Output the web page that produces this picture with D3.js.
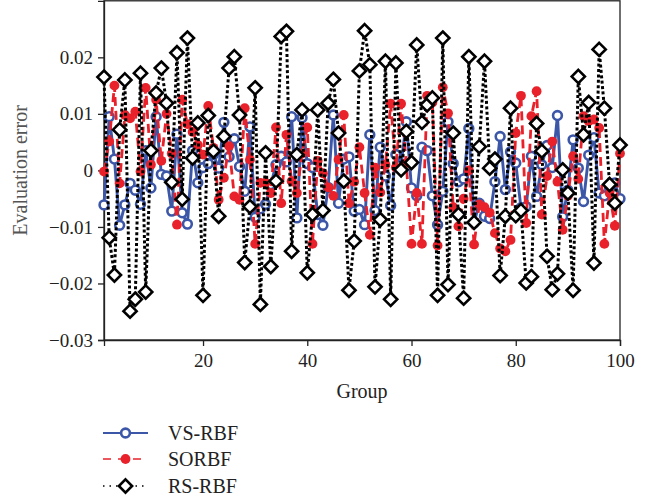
<!DOCTYPE html>
<html>
<head>
<meta charset="utf-8">
<script src="https://cdn.jsdelivr.net/npm/d3@7"></script>
<style>
  body { margin: 0; background: #fff; }
  svg { display: block; }
  text { font-family: "Liberation Serif", "DejaVu Serif", serif; }
</style>
</head>
<body>
<svg id="chart" width="650" height="498"></svg>
<script>
// ---- data ----
const groups = d3.range(1, 101);
const yTicks = [-0.03, -0.02, -0.01, 0, 0.01, 0.02];
const xTicks = [20, 40, 60, 80, 100];
const seriesNames = ["VS-RBF", "SORBF", "RS-RBF"];

const vsRBF = [
 -0.0061, 0.0095, 0.0020,-0.0097,-0.0061,-0.0023,-0.0035,-0.0060, 0.0035,-0.0031,
  0.0095,-0.0007,-0.0010,-0.0072, 0.0064,-0.0075,-0.0095, 0.0035,-0.0022, 0.0005,
  0.0012, 0.0028, 0.0004, 0.0085, 0.0024, 0.0056, 0.0007,-0.0037, 0.0077,-0.0083,
 -0.0068,-0.0060,-0.0025, 0.0010, 0.0025, 0.0015, 0.0095,-0.0084, 0.0093, 0.0012,
  0.0005,-0.0078,-0.0097,-0.0030, 0.0098,-0.0058, 0.0020, 0.0024,-0.0072,-0.0069,
 -0.0096, 0.0063,-0.0071, 0.0041,-0.0010,-0.0062, 0.0028, 0.0010, 0.0086,-0.0031,
 -0.0045, 0.0041, 0.0035,-0.0045,-0.0096,-0.0037, 0.0086, 0.0012,-0.0020,-0.0015,
  0.0074,-0.0093,-0.0058,-0.0081,-0.0085,-0.0020, 0.0060,-0.0034, 0.0033, 0.0013,
 -0.0066,-0.0064, 0.0025,-0.0046, 0.0010, 0.0044, 0.0005, 0.0097,-0.0082,-0.0035,
  0.0054, 0.0004,-0.0055, 0.0027, 0.0058,-0.0040,-0.0045,-0.0031,-0.0022,-0.0050
];
const soRBF = [
 -0.0002, 0.0051, 0.0150,-0.0023, 0.0098, 0.0092, 0.0104,-0.0002, 0.0146, 0.0010,
  0.0125, 0.0017, 0.0100, 0.0030,-0.0096, 0.0125, 0.0082, 0.0068, 0.0045, 0.0028,
  0.0114, 0.0040,-0.0052,-0.0013, 0.0043,-0.0046,-0.0052, 0.0110, 0.0019,-0.0130,
 -0.0022,-0.0022,-0.0040, 0.0076,-0.0058, 0.0063,-0.0019,-0.0040, 0.0030, 0.0076,
 -0.0130, 0.0017,-0.0005,-0.0030,-0.0045, 0.0019, 0.0098,-0.0058,-0.0020, 0.0041,
 -0.0040,-0.0114, 0.0005,-0.0039, 0.0010, 0.0118, 0.0005, 0.0118, 0.0013,-0.0130,
 -0.0040,-0.0130, 0.0132, 0.0120,-0.0133, 0.0147, 0.0101,-0.0065,-0.0099,-0.0050,
  0.0000,-0.0131,-0.0060,-0.0065,-0.0075,-0.0111,-0.0138,-0.0143,-0.0123, 0.0066,
  0.0132,-0.0093, 0.0096, 0.0140,-0.0078,-0.0010, 0.0051,-0.0020,-0.0105,-0.0045,
  0.0025,-0.0015, 0.0096, 0.0087, 0.0090, 0.0075,-0.0130,-0.0040,-0.0098, 0.0030
];
const rsRBF = [
  0.0165,-0.0119,-0.0185, 0.0072, 0.0160,-0.0249,-0.0228, 0.0172,-0.0215, 0.0035,
  0.0137, 0.0181, 0.0119,-0.0021, 0.0208,-0.0051, 0.0234, 0.0022, 0.0084,-0.0221,
  0.0097, 0.0034,-0.0081, 0.0060, 0.0181, 0.0201, 0.0098,-0.0163,-0.0064, 0.0146,
 -0.0237, 0.0031,-0.0170,-0.0019, 0.0237, 0.0246,-0.0143, 0.0028, 0.0107,-0.0181,
 -0.0078, 0.0107,-0.0071, 0.0119, 0.0161, 0.0066,-0.0019,-0.0212,-0.0125, 0.0176,
  0.0247, 0.0187,-0.0206,-0.0087, 0.0193,-0.0228, 0.0190, 0.0001, 0.0069, 0.0014,
  0.0222, 0.0085, 0.0116, 0.0128,-0.0221, 0.0234,-0.0202, 0.0066,-0.0078,-0.0226,
  0.0201,-0.0092, 0.0042, 0.0193, 0.0004, 0.0020,-0.0186,-0.0081, 0.0110,-0.0080,
 -0.0071,-0.0199,-0.0188, 0.0083, 0.0034,-0.0152,-0.0211,-0.0183, 0.0001,-0.0040,
 -0.0212, 0.0166, 0.0063, 0.0120,-0.0164, 0.0214, 0.0110,-0.0025,-0.0058, 0.0045
];

// ---- layout ----
const svg = d3.select("#chart");
const x = d3.scaleLinear().domain([1, 100]).range([104, 620]);
const y = d3.scaleLinear().domain([-0.03, 0.03]).range([340, 0.8]);
const axisColor = "#222";
const fmt = v => v === 0 ? "0" : d3.format(".2f")(v).replace("-", "\u2212");

// frame
svg.append("rect")
  .attr("x", x(1)).attr("y", y(0.03))
  .attr("width", x(100) - x(1)).attr("height", y(-0.03) - y(0.03))
  .attr("fill", "none").attr("stroke", axisColor).attr("stroke-width", 1.3);

// axes
const yAxis = d3.axisLeft(y).tickValues(yTicks).tickFormat(fmt).tickSize(6).tickPadding(5);
const gy = svg.append("g").attr("transform", `translate(${x(1)},0)`).call(yAxis);
const xAxis = d3.axisBottom(x).tickValues(xTicks).tickSize(6).tickPadding(8);
const gx = svg.append("g").attr("transform", `translate(0,${y(-0.03)})`).call(xAxis);
[gy, gx].forEach(g => {
  g.select(".domain").attr("stroke", axisColor).attr("stroke-width", 1.3);
  g.selectAll(".tick line").attr("stroke", axisColor).attr("stroke-width", 1.3);
  g.selectAll(".tick text").attr("fill", "#222").style("font-size", "19px")
    .style("font-family", '"Liberation Serif", serif');
});

svg.append("text").attr("x", (x(1) + x(100)) / 2).attr("y", 398)
  .attr("text-anchor", "middle").attr("fill", "#222").style("font-size", "20px").text("Group");
svg.append("text").attr("transform", `translate(27,${(y(0.03) + y(-0.03)) / 2}) rotate(-90)`)
  .attr("text-anchor", "middle").attr("fill", "#555").style("font-size", "20px").text("Evaluation error");

// ---- series ----
const blue = "#3d57a8", red = "#e8212a", black = "#000";
const line = d3.line().x((d, i) => x(groups[i])).y(d => y(d));
const plot = svg.append("g");

const diamond = s => `M0,${-s}L${s},0L0,${s}L${-s},0Z`;

// VS-RBF
plot.append("path").datum(vsRBF).attr("d", line).attr("fill", "none")
  .attr("stroke", blue).attr("stroke-width", 2.9);
plot.append("g").selectAll("circle").data(vsRBF).join("circle")
  .attr("cx", (d, i) => x(groups[i])).attr("cy", d => y(d)).attr("r", 4.4)
  .attr("fill", "#fff").attr("stroke", blue).attr("stroke-width", 2.6);

// SORBF
plot.append("path").datum(soRBF).attr("d", line).attr("fill", "none")
  .attr("stroke", red).attr("stroke-width", 2.8).attr("stroke-dasharray", "9,5");
plot.append("g").selectAll("circle").data(soRBF).join("circle")
  .attr("cx", (d, i) => x(groups[i])).attr("cy", d => y(d)).attr("r", 4.9)
  .attr("fill", red);

// RS-RBF
plot.append("path").datum(rsRBF).attr("d", line).attr("fill", "none")
  .attr("stroke", black).attr("stroke-width", 3).attr("stroke-dasharray", "3,2.4");
plot.append("g").selectAll("path").data(rsRBF).join("path")
  .attr("transform", (d, i) => `translate(${x(groups[i])},${y(d)})`)
  .attr("d", diamond(6.6)).attr("fill", "#fff").attr("stroke", black).attr("stroke-width", 2.6);

// ---- legend ----
const legend = svg.append("g");
const legY = [433, 459, 486];
const lx0 = 103, lx1 = 148, lxm = 125.5;
// VS-RBF
legend.append("line").attr("x1", lx0).attr("x2", lx1).attr("y1", legY[0]).attr("y2", legY[0])
  .attr("stroke", blue).attr("stroke-width", 2.2);
legend.append("circle").attr("cx", lxm).attr("cy", legY[0]).attr("r", 4.4)
  .attr("fill", "#fff").attr("stroke", blue).attr("stroke-width", 2.6);
// SORBF
legend.append("line").attr("x1", lx0).attr("x2", lx1).attr("y1", legY[1]).attr("y2", legY[1])
  .attr("stroke", red).attr("stroke-width", 1.6).attr("stroke-dasharray", "8,7");
legend.append("circle").attr("cx", lxm).attr("cy", legY[1]).attr("r", 4.9).attr("fill", red);
// RS-RBF
legend.append("line").attr("x1", lx0).attr("x2", lx1).attr("y1", legY[2]).attr("y2", legY[2])
  .attr("stroke", black).attr("stroke-width", 1.5).attr("stroke-dasharray", "1.5,5");
legend.append("path").attr("transform", `translate(${lxm},${legY[2]})`)
  .attr("d", diamond(6.6)).attr("fill", "#fff").attr("stroke", black).attr("stroke-width", 2.6);

legend.selectAll("text.lab").data(seriesNames).join("text").attr("class", "lab")
  .attr("x", 168).attr("y", (d, i) => legY[i] + 7)
  .attr("fill", "#222").style("font-size", "20px").text(d => d);
</script>
</body>
</html>
